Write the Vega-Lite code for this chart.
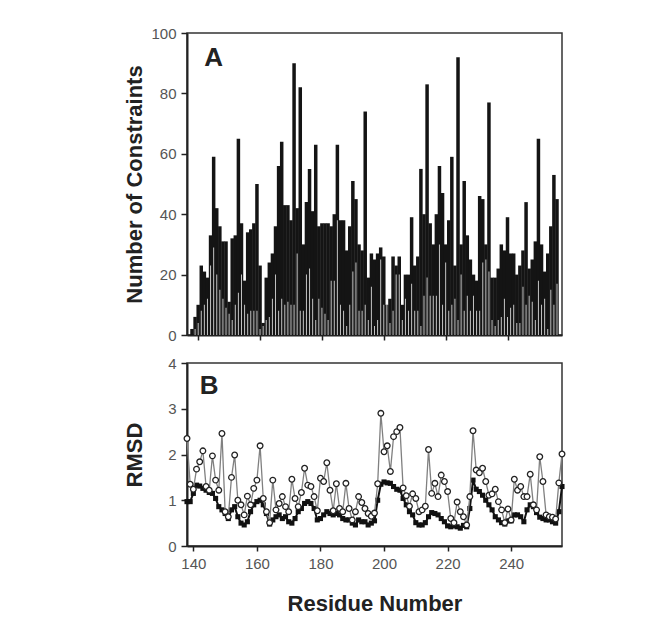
{
  "$schema": "https://vega.github.io/schema/vega-lite/v6.json",
  "background": "white",
  "padding": {"left": 122, "top": 25, "right": 10, "bottom": 5},
  "spacing": 28,
  "bounds": "flush",
  "data": {"values": [
    {"residue":138,"total":2,"sub":0,"open":2.35,"filled":0.97},
    {"residue":139,"total":6,"sub":2,"open":1.35,"filled":0.97},
    {"residue":140,"total":10,"sub":4,"open":1.24,"filled":1.15},
    {"residue":141,"total":23,"sub":8,"open":1.68,"filled":1.33},
    {"residue":142,"total":21,"sub":10,"open":1.84,"filled":1.31},
    {"residue":143,"total":19,"sub":12,"open":2.08,"filled":1.26},
    {"residue":144,"total":33,"sub":23,"open":1.3,"filled":1.22},
    {"residue":145,"total":59,"sub":29,"open":1.22,"filled":1.17},
    {"residue":146,"total":42,"sub":20,"open":1.97,"filled":1.15},
    {"residue":147,"total":36,"sub":15,"open":1.44,"filled":1.04},
    {"residue":148,"total":31,"sub":12,"open":1.22,"filled":0.86},
    {"residue":149,"total":31,"sub":9,"open":2.46,"filled":0.79},
    {"residue":150,"total":11,"sub":7,"open":0.75,"filled":0.71},
    {"residue":151,"total":32,"sub":5,"open":0.64,"filled":0.6},
    {"residue":152,"total":33,"sub":10,"open":1.5,"filled":0.79},
    {"residue":153,"total":65,"sub":14,"open":1.99,"filled":0.86},
    {"residue":154,"total":37,"sub":20,"open":1.0,"filled":0.64},
    {"residue":155,"total":18,"sub":10,"open":0.9,"filled":0.5},
    {"residue":156,"total":34,"sub":7,"open":0.68,"filled":0.46},
    {"residue":157,"total":35,"sub":8,"open":1.09,"filled":0.53},
    {"residue":158,"total":37,"sub":8,"open":0.9,"filled":0.75},
    {"residue":159,"total":50,"sub":8,"open":1.26,"filled":0.9},
    {"residue":160,"total":23,"sub":2,"open":1.44,"filled":0.97},
    {"residue":161,"total":4,"sub":3,"open":2.19,"filled":1.0},
    {"residue":162,"total":19,"sub":5,"open":1.04,"filled":0.9},
    {"residue":163,"total":24,"sub":6,"open":0.75,"filled":0.71},
    {"residue":164,"total":27,"sub":12,"open":0.51,"filled":0.48},
    {"residue":165,"total":36,"sub":20,"open":1.44,"filled":0.57},
    {"residue":166,"total":56,"sub":8,"open":0.79,"filled":0.64},
    {"residue":167,"total":64,"sub":12,"open":0.93,"filled":0.68},
    {"residue":168,"total":43,"sub":10,"open":1.08,"filled":0.6},
    {"residue":169,"total":43,"sub":11,"open":0.86,"filled":0.64},
    {"residue":170,"total":38,"sub":10,"open":0.75,"filled":0.53},
    {"residue":171,"total":90,"sub":10,"open":1.46,"filled":0.5},
    {"residue":172,"total":42,"sub":27,"open":1.04,"filled":0.6},
    {"residue":173,"total":82,"sub":8,"open":0.86,"filled":0.75},
    {"residue":174,"total":30,"sub":8,"open":1.17,"filled":0.82},
    {"residue":175,"total":44,"sub":20,"open":1.7,"filled":0.93},
    {"residue":176,"total":55,"sub":22,"open":1.33,"filled":0.97},
    {"residue":177,"total":41,"sub":12,"open":1.3,"filled":0.93},
    {"residue":178,"total":63,"sub":5,"open":1.08,"filled":0.82},
    {"residue":179,"total":36,"sub":12,"open":0.77,"filled":0.57},
    {"residue":180,"total":37,"sub":9,"open":1.48,"filled":0.6},
    {"residue":181,"total":37,"sub":7,"open":1.41,"filled":0.68},
    {"residue":182,"total":37,"sub":5,"open":1.82,"filled":0.75},
    {"residue":183,"total":36,"sub":18,"open":1.22,"filled":0.71},
    {"residue":184,"total":40,"sub":18,"open":0.77,"filled":0.68},
    {"residue":185,"total":63,"sub":38,"open":1.36,"filled":0.71},
    {"residue":186,"total":38,"sub":10,"open":0.82,"filled":0.68},
    {"residue":187,"total":38,"sub":8,"open":0.75,"filled":0.6},
    {"residue":188,"total":28,"sub":3,"open":1.37,"filled":0.57},
    {"residue":189,"total":36,"sub":10,"open":0.82,"filled":0.57},
    {"residue":190,"total":51,"sub":21,"open":0.57,"filled":0.5},
    {"residue":191,"total":45,"sub":24,"open":0.75,"filled":0.46},
    {"residue":192,"total":30,"sub":8,"open":1.08,"filled":0.57},
    {"residue":193,"total":28,"sub":8,"open":0.95,"filled":0.53},
    {"residue":194,"total":74,"sub":10,"open":0.82,"filled":0.53},
    {"residue":195,"total":19,"sub":5,"open":0.71,"filled":0.46},
    {"residue":196,"total":27,"sub":16,"open":0.65,"filled":0.5},
    {"residue":197,"total":25,"sub":3,"open":0.72,"filled":0.55},
    {"residue":198,"total":27,"sub":5,"open":1.36,"filled":1.0},
    {"residue":199,"total":29,"sub":25,"open":2.9,"filled":1.35},
    {"residue":200,"total":26,"sub":10,"open":2.06,"filled":1.4},
    {"residue":201,"total":10,"sub":10,"open":2.19,"filled":1.38},
    {"residue":202,"total":12,"sub":4,"open":1.63,"filled":1.37},
    {"residue":203,"total":26,"sub":8,"open":2.39,"filled":1.3},
    {"residue":204,"total":23,"sub":20,"open":2.5,"filled":1.24},
    {"residue":205,"total":26,"sub":20,"open":2.59,"filled":1.22},
    {"residue":206,"total":10,"sub":5,"open":1.27,"filled":1.04},
    {"residue":207,"total":20,"sub":12,"open":1.1,"filled":0.9},
    {"residue":208,"total":20,"sub":8,"open":0.87,"filled":0.75},
    {"residue":209,"total":39,"sub":17,"open":1.14,"filled":0.68},
    {"residue":210,"total":23,"sub":8,"open":1.04,"filled":0.51},
    {"residue":211,"total":26,"sub":8,"open":0.75,"filled":0.46},
    {"residue":212,"total":55,"sub":3,"open":0.79,"filled":0.46},
    {"residue":213,"total":40,"sub":13,"open":0.87,"filled":0.51},
    {"residue":214,"total":83,"sub":19,"open":2.11,"filled":0.64},
    {"residue":215,"total":37,"sub":13,"open":1.15,"filled":0.73},
    {"residue":216,"total":30,"sub":13,"open":1.37,"filled":0.71},
    {"residue":217,"total":40,"sub":13,"open":1.08,"filled":0.68},
    {"residue":218,"total":56,"sub":30,"open":1.55,"filled":0.6},
    {"residue":219,"total":47,"sub":10,"open":1.41,"filled":0.53},
    {"residue":220,"total":30,"sub":24,"open":1.19,"filled":0.44},
    {"residue":221,"total":38,"sub":8,"open":0.6,"filled":0.42},
    {"residue":222,"total":59,"sub":10,"open":0.51,"filled":0.44},
    {"residue":223,"total":23,"sub":12,"open":0.96,"filled":0.42},
    {"residue":224,"total":92,"sub":5,"open":0.75,"filled":0.39},
    {"residue":225,"total":30,"sub":20,"open":0.64,"filled":0.45},
    {"residue":226,"total":51,"sub":8,"open":0.46,"filled":0.42},
    {"residue":227,"total":33,"sub":13,"open":1.08,"filled":0.82},
    {"residue":228,"total":25,"sub":8,"open":2.52,"filled":1.44},
    {"residue":229,"total":20,"sub":13,"open":1.66,"filled":1.24},
    {"residue":230,"total":18,"sub":8,"open":1.6,"filled":1.19},
    {"residue":231,"total":46,"sub":8,"open":1.7,"filled":1.11},
    {"residue":232,"total":45,"sub":24,"open":1.41,"filled":1.0},
    {"residue":233,"total":30,"sub":25,"open":1.11,"filled":0.9},
    {"residue":234,"total":77,"sub":21,"open":1.14,"filled":0.79},
    {"residue":235,"total":19,"sub":5,"open":1.24,"filled":0.64},
    {"residue":236,"total":19,"sub":3,"open":0.97,"filled":0.57},
    {"residue":237,"total":22,"sub":5,"open":0.79,"filled":0.51},
    {"residue":238,"total":30,"sub":6,"open":0.51,"filled":0.48},
    {"residue":239,"total":28,"sub":12,"open":0.81,"filled":0.55},
    {"residue":240,"total":39,"sub":6,"open":0.57,"filled":0.55},
    {"residue":241,"total":27,"sub":9,"open":1.46,"filled":0.68},
    {"residue":242,"total":27,"sub":10,"open":1.22,"filled":0.68},
    {"residue":243,"total":20,"sub":4,"open":1.3,"filled":0.64},
    {"residue":244,"total":23,"sub":4,"open":1.08,"filled":0.53},
    {"residue":245,"total":28,"sub":16,"open":1.08,"filled":0.79},
    {"residue":246,"total":44,"sub":10,"open":1.57,"filled":0.9},
    {"residue":247,"total":22,"sub":13,"open":0.9,"filled":0.86},
    {"residue":248,"total":25,"sub":11,"open":0.79,"filled":0.73},
    {"residue":249,"total":31,"sub":5,"open":1.95,"filled":0.63},
    {"residue":250,"total":65,"sub":18,"open":1.41,"filled":0.6},
    {"residue":251,"total":30,"sub":10,"open":0.68,"filled":0.57},
    {"residue":252,"total":21,"sub":12,"open":0.64,"filled":0.57},
    {"residue":253,"total":27,"sub":2,"open":0.63,"filled":0.53},
    {"residue":254,"total":36,"sub":15,"open":0.59,"filled":0.5},
    {"residue":255,"total":53,"sub":10,"open":1.38,"filled":0.75},
    {"residue":256,"total":45,"sub":17,"open":2.01,"filled":1.3}
  ]},
  "config": {
    "font": "Liberation Sans",
    "view": {"stroke": "#333", "strokeWidth": 1.5},
    "axis": {
      "grid": false,
      "domainColor": "#222",
      "domainWidth": 2,
      "tickColor": "#222",
      "tickWidth": 1.5,
      "labelColor": "#555",
      "labelFont": "Liberation Sans",
      "labelFontSize": 15,
      "titleFont": "Liberation Sans",
      "titleFontSize": 22,
      "titleFontWeight": "bold",
      "titleColor": "#222"
    }
  },
  "vconcat": [
    {
      "width": 375,
      "height": 302,
      "layer": [
        {
          "mark": {"type": "bar", "size": 3.5, "color": "#141414", "clip": true},
          "encoding": {
            "x": {"field": "residue", "type": "quantitative",
                  "scale": {"domain": [138, 256], "nice": false, "zero": false},
                  "axis": {"values": [140,145,150,155,160,165,170,175,180,185,190,195,200,205,210,215,220,225,230,235,240,245,250,255], "labels": false, "title": null, "tickSize": 5}},
            "y": {"field": "total", "type": "quantitative",
                  "scale": {"domain": [0, 100], "nice": false},
                  "axis": {"values": [0,20,40,60,80,100], "title": "Number of Constraints", "tickSize": 6, "labelPadding": 5, "titlePadding": 4}}
          }
        },
        {
          "mark": {"type": "bar", "size": 1, "color": "#c4c4c4", "clip": true},
          "encoding": {
            "x": {"field": "residue", "type": "quantitative"},
            "y": {"field": "sub", "type": "quantitative"}
          }
        },
        {
          "data": {"values": [{"panel": "A"}]},
          "mark": {"type": "text", "align": "left", "baseline": "alphabetic", "fontSize": 26, "fontWeight": "bold", "color": "#222"},
          "encoding": {
            "x": {"datum": 142},
            "y": {"datum": 89},
            "text": {"field": "panel"}
          }
        }
      ]
    },
    {
      "width": 375,
      "height": 183,
      "layer": [
        {
          "mark": {"type": "line", "color": "#111", "strokeWidth": 2},
          "encoding": {
            "x": {"field": "residue", "type": "quantitative",
                  "scale": {"domain": [138, 256], "nice": false, "zero": false},
                  "axis": {"values": [140,145,150,155,160,165,170,175,180,185,190,195,200,205,210,215,220,225,230,235,240,245,250,255],
                           "labelExpr": "datum.value % 20 == 0 ? datum.label : ''",
                           "title": "Residue Number", "tickSize": 5, "labelPadding": 5, "titlePadding": 22}},
            "y": {"field": "filled", "type": "quantitative",
                  "scale": {"domain": [0, 4], "nice": false},
                  "axis": {"values": [0,1,2,3,4], "title": "RMSD", "tickSize": 6, "labelPadding": 5, "titlePadding": 21}}
          }
        },
        {
          "mark": {"type": "square", "filled": true, "color": "#111", "size": 26, "opacity": 1},
          "encoding": {
            "x": {"field": "residue", "type": "quantitative"},
            "y": {"field": "filled", "type": "quantitative"}
          }
        },
        {
          "mark": {"type": "line", "color": "#808080", "strokeWidth": 1.3},
          "encoding": {
            "x": {"field": "residue", "type": "quantitative"},
            "y": {"field": "open", "type": "quantitative"}
          }
        },
        {
          "mark": {"type": "point", "shape": "circle", "filled": true, "fill": "white", "stroke": "#222", "strokeWidth": 1.3, "size": 32, "opacity": 1},
          "encoding": {
            "x": {"field": "residue", "type": "quantitative"},
            "y": {"field": "open", "type": "quantitative"}
          }
        },
        {
          "data": {"values": [{"panel": "B"}]},
          "mark": {"type": "text", "align": "left", "baseline": "alphabetic", "fontSize": 26, "fontWeight": "bold", "color": "#222"},
          "encoding": {
            "x": {"datum": 142},
            "y": {"datum": 3.33},
            "text": {"field": "panel"}
          }
        }
      ]
    }
  ]
}
